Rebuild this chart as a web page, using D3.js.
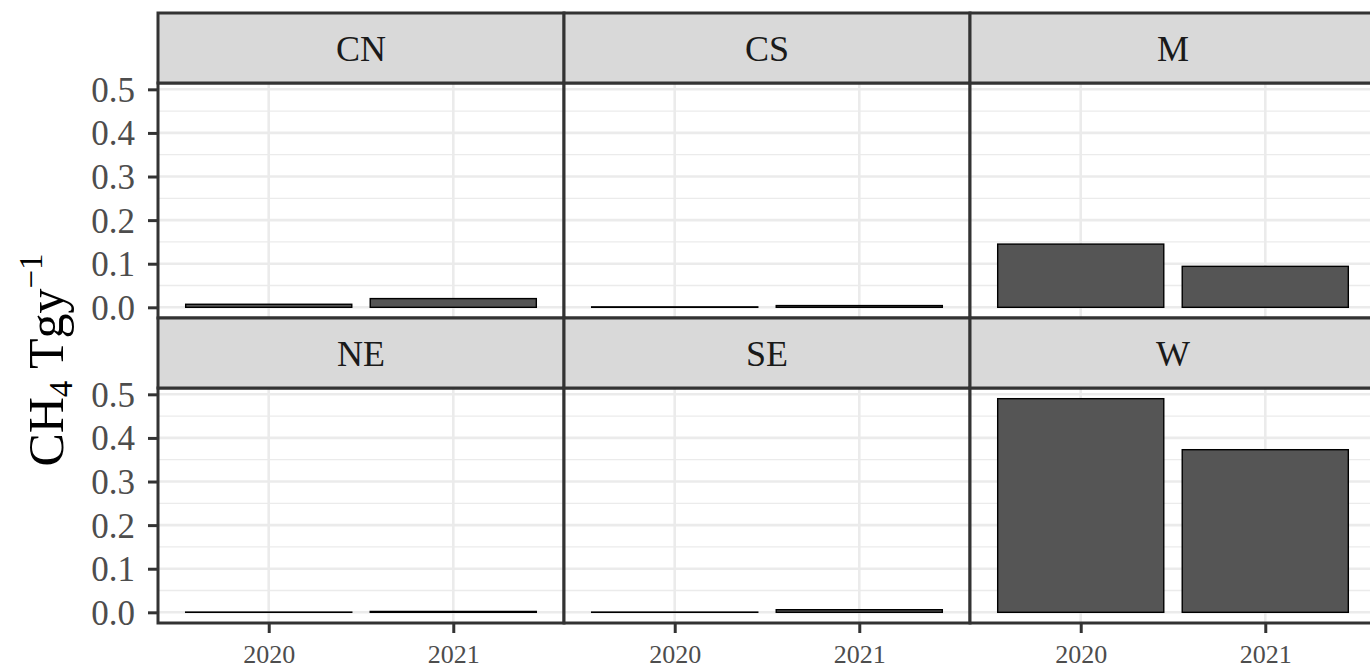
<!DOCTYPE html>
<html><head><meta charset="utf-8">
<script src="https://cdn.jsdelivr.net/npm/d3@7"></script>
<style>body{margin:0;background:#fff;overflow:hidden}svg{display:block}</style>
</head><body>
<svg id="c" width="1370" height="668"></svg>
<script>
const regions = ["CN","CS","M","NE","SE","W"];
const years = ["2020","2021"];
const v2020 = [0.007, 0.001, 0.145, 0.0005, 0.0005, 0.490];
const v2021 = [0.020, 0.004, 0.094, 0.002, 0.006, 0.373];
const yTicks = [0.0,0.1,0.2,0.3,0.4,0.5];
const yMinor = [0.05,0.15,0.25,0.35,0.45];

const svg = d3.select("#c");
const left = 158, panelW = 406, stripH = 70, panelH = 235, top0 = 13;
const ncol = 3;
const font = "'Liberation Serif','Times New Roman',serif";
const maxV = d3.max(v2020.concat(v2021));
const ex = maxV*0.05;

regions.forEach((r,i)=>{
  const col = i % ncol, row = Math.floor(i/ncol);
  const x0 = left + col*panelW;
  const sy = top0 + row*(stripH+panelH);
  const py = sy + stripH;
  const x = d3.scaleLinear().domain([0.4,2.6]).range([x0, x0+panelW]);
  const y = d3.scaleLinear().domain([-ex, maxV+ex]).range([py+panelH, py]);
  const g = svg.append("g");
  g.append("rect").attr("x",x0).attr("y",py).attr("width",panelW).attr("height",panelH).attr("fill","#fff");
  g.selectAll(".mn").data(yMinor).join("line")
    .attr("x1",x0).attr("x2",x0+panelW).attr("y1",d=>y(d)).attr("y2",d=>y(d))
    .attr("stroke","#EBEBEB").attr("stroke-width",1.3);
  g.selectAll(".mj").data(yTicks).join("line")
    .attr("x1",x0).attr("x2",x0+panelW).attr("y1",d=>y(d)).attr("y2",d=>y(d))
    .attr("stroke","#EBEBEB").attr("stroke-width",2.6);
  g.selectAll(".vj").data(years).join("line")
    .attr("x1",(d,j)=>x(j+1)).attr("x2",(d,j)=>x(j+1)).attr("y1",py).attr("y2",py+panelH)
    .attr("stroke","#EBEBEB").attr("stroke-width",2.6);
  const vals = [v2020[i], v2021[i]];
  g.selectAll(".bar").data(vals).join("rect")
    .attr("x",(d,j)=>x(j+1-0.45)).attr("width",(d,j)=>x(j+1+0.45)-x(j+1-0.45))
    .attr("y",d=>y(d)).attr("height",d=>Math.max(0,y(0)-y(d)))
    .attr("fill","#555555").attr("stroke","#000").attr("stroke-width",1.4);
  g.append("rect").attr("x",x0).attr("y",py).attr("width",panelW).attr("height",panelH)
    .attr("fill","none").attr("stroke","#333").attr("stroke-width",3);
  g.append("rect").attr("x",x0).attr("y",sy).attr("width",panelW).attr("height",stripH)
    .attr("fill","#D9D9D9").attr("stroke","#333").attr("stroke-width",3);
  g.append("text").attr("x",x0+panelW/2).attr("y",sy+stripH/2).attr("dy","0.35em")
    .attr("text-anchor","middle").attr("font-family",font).attr("font-size",36)
    .attr("fill","#1A1A1A").text(r);
  if (col===0) {
    const ya = d3.axisLeft(y).tickValues(yTicks).tickFormat(d3.format(".1f")).tickSize(10).tickPadding(13);
    const ag = g.append("g").attr("transform",`translate(${x0},0)`).call(ya);
    ag.select(".domain").remove();
    ag.selectAll(".tick line").attr("stroke","#333").attr("stroke-width",3);
    ag.selectAll(".tick text").attr("font-family",font).attr("font-size",35).attr("fill","#4D4D4D").attr("dy","0.34em");
  }
  if (row===1) {
    const xa = d3.axisBottom(x).tickValues([1,2]).tickFormat((d)=>years[d-1]).tickSize(10).tickPadding(12);
    const ag = g.append("g").attr("transform",`translate(0,${py+panelH})`).call(xa);
    ag.select(".domain").remove();
    ag.selectAll(".tick line").attr("stroke","#333").attr("stroke-width",3);
    ag.selectAll(".tick text").attr("font-family",font).attr("font-size",26).attr("fill","#4D4D4D");
  }
});

const ty = 360;
const tt = svg.append("text").attr("transform",`translate(63,${ty}) rotate(-90)`)
  .attr("text-anchor","middle").attr("font-family",font).attr("font-size",50).attr("fill","#000");
tt.append("tspan").text("CH");
tt.append("tspan").attr("font-size",33).attr("dy",9).text("4");
tt.append("tspan").attr("dy",-9).text(" Tgy");
tt.append("tspan").attr("font-size",33).attr("dy",-21).text("\u22121");
</script>
</body></html>
